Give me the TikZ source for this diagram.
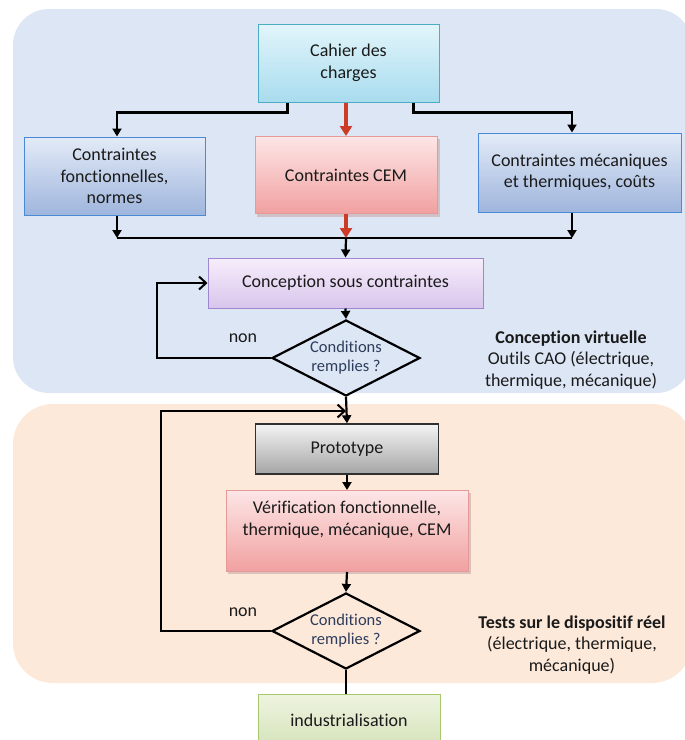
\documentclass[tikz,border=0pt]{standalone}
\usepackage{fontspec}
\setmainfont{Carlito}[Ligatures=NoCommon]
\usetikzlibrary{arrows.meta,shapes.geometric}
\definecolor{bgblue}{HTML}{DCE6F4}
\definecolor{bgorange}{HTML}{FDE9DA}
\definecolor{cyantop}{HTML}{E2F5FB}
\definecolor{cyanbot}{HTML}{A9DCEE}
\definecolor{cyanline}{HTML}{4BACC6}
\definecolor{bluetop}{HTML}{E3EBF7}
\definecolor{bluebot}{HTML}{9FB5DD}
\definecolor{blueline}{HTML}{4A8AD4}
\definecolor{redtop}{HTML}{FDE6E6}
\definecolor{redbot}{HTML}{F1A0A0}
\definecolor{redline}{HTML}{E59A9A}
\definecolor{purtop}{HTML}{F6EEFB}
\definecolor{purbot}{HTML}{D9C5EC}
\definecolor{purline}{HTML}{9E87CF}
\definecolor{graytop}{HTML}{F4F4F4}
\definecolor{graybot}{HTML}{A5A5A5}
\definecolor{grayline}{HTML}{303030}
\definecolor{greentop}{HTML}{EEF4E0}
\definecolor{greenbot}{HTML}{D6E3BB}
\definecolor{greenline}{HTML}{A6C76A}
\definecolor{redarrow}{HTML}{CC3B26}
\definecolor{txt}{HTML}{1A1A1A}
\definecolor{dtxt}{HTML}{2E3D5C}
\definecolor{shadowc}{HTML}{C9A9A9}
\begin{document}
\begin{tikzpicture}[x=1pt,y=-1pt,
  every node/.style={font=\fontsize{18}{21.5}\selectfont, text=txt},
  box/.style={rectangle, align=center, line width=1pt, inner sep=2pt},
  cyanbox/.style={box, draw=cyanline, top color=cyantop, bottom color=cyanbot},
  bluebox/.style={box, draw=blueline, top color=bluetop, bottom color=bluebot},
  redbox/.style={box, draw=redline, top color=redtop, bottom color=redbot},
  purbox/.style={box, draw=purline, top color=purtop, bottom color=purbot},
  graybox/.style={box, draw=grayline, line width=1.4pt, top color=graytop, bottom color=graybot},
  greenbox/.style={box, draw=greenline, top color=greentop, bottom color=greenbot},
  cond/.style={diamond, draw=black, line width=2.2pt, align=center, inner sep=0pt,
    aspect=1.95, minimum width=148pt, minimum height=76pt,
    font=\fontsize{16.5}{19}\selectfont, text=dtxt},
  lbl/.style={align=center, inner sep=0pt},
  arr/.style={draw=black, line width=2.2pt, -{Triangle[length=8pt,width=9pt]}},
  plain/.style={draw=black, line width=2.2pt},
  redarr/.style={draw=redarrow, line width=3.4pt, -{Triangle[length=10pt,width=12pt]}},
  back/.style={draw=black, line width=2.2pt, -{Straight Barb[length=7pt,width=13pt,line width=2pt]}}
]
\useasboundingbox (0,0) rectangle (685,740);
% backgrounds
\fill[bgblue, rounded corners=36pt] (13,9) rectangle (692,393);
\fill[bgorange, rounded corners=40pt] (13,404) rectangle (692,683);

% shadows of the CEM boxes
\fill[shadowc, opacity=0.6] (257,139) rectangle (440,217);
\fill[shadowc, opacity=0.6] (228,493) rectangle (471,574);

% nodes
\node[cyanbox, minimum width=181pt, minimum height=78pt] (cahier) at (348.5,63) {Cahier des\\charges};
\node[bluebox, minimum width=181pt, minimum height=78pt] (fonct) at (114.5,176) {Contraintes\\fonctionnelles,\\normes};
\node[redbox, minimum width=182pt, minimum height=77pt] (cem) at (346,175) {Contraintes CEM};
\node[bluebox, minimum width=203pt, minimum height=79pt] (meca) at (579.5,172.5) {Contraintes mécaniques\\et thermiques, coûts};
\node[purbox, minimum width=275pt, minimum height=50pt] (concep) at (345.5,283) {Conception sous contraintes};
\node[cond] (d1) at (346,358) {Conditions\\remplies ?};
\node[graybox, minimum width=183pt, minimum height=50pt] (proto) at (347,449) {Prototype};
\node[redbox, minimum width=242pt, minimum height=81pt] (verif) at (347,531) {};
\node[lbl] (veriftxt) at (347,519.5) {Vérification fonctionnelle,\\thermique, mécanique, CEM};
\node[cond] (d2) at (346,631) {Conditions\\remplies ?};
\node[greenbox, minimum width=182pt, minimum height=52pt] (indus) at (349,720) {industrialisation};

% side texts
\node[lbl] (non1) at (243,338) {non};
\node[lbl] (non2) at (243,612) {non};
\node[lbl] (virt) at (571,360) {\textbf{Conception virtuelle}\\Outils CAO (électrique,\\thermique, mécanique)};
\node[lbl] (tests) at (572,645) {\textbf{Tests sur le dispositif réel}\\(électrique, thermique,\\mécanique)};

% coordinates
\coordinate (merge) at (346,238);
\coordinate (j2) at (346,411);

% top connectors
\draw[arr] ([xshift=-61pt]cahier.south) -- ++(0,10) -| ([xshift=2.5pt]fonct.north);
\draw[arr] ([xshift=65pt]cahier.south) -- ++(0,10) -| ([xshift=-7.5pt]meca.north);
\draw[redarr] (cem.north |- cahier.south) -- (cem.north);

% merge connectors
\draw[plain] ([xshift=2.5pt]fonct.south |- merge) -- ([xshift=-7.5pt]meca.south |- merge);
\draw[arr] ([xshift=2.5pt]fonct.south) -- ([xshift=2.5pt]fonct.south |- merge);
\draw[arr] ([xshift=-7.5pt]meca.south) -- ([xshift=-7.5pt]meca.south |- merge);
\draw[redarr] (cem.south) -- (cem.south |- merge);
\draw[arr] (merge) -- (concep.north);

% virtual design loop
\draw[arr] (concep.south) -- (d1.north);
\draw[back] (d1.west) -- ++(-114,0) |- (concep.west);
\draw[arr] (d1.south) -- (proto.north);

% real test loop
\draw[back] (d2.west) -- ++(-110,0) |- (j2);
\draw[arr] (proto.south) -- (verif.north);
\draw[arr] (verif.south) -- (d2.north);
\draw[plain] (d2.south) -- (d2.south |- indus.north);
\end{tikzpicture}
\end{document}
